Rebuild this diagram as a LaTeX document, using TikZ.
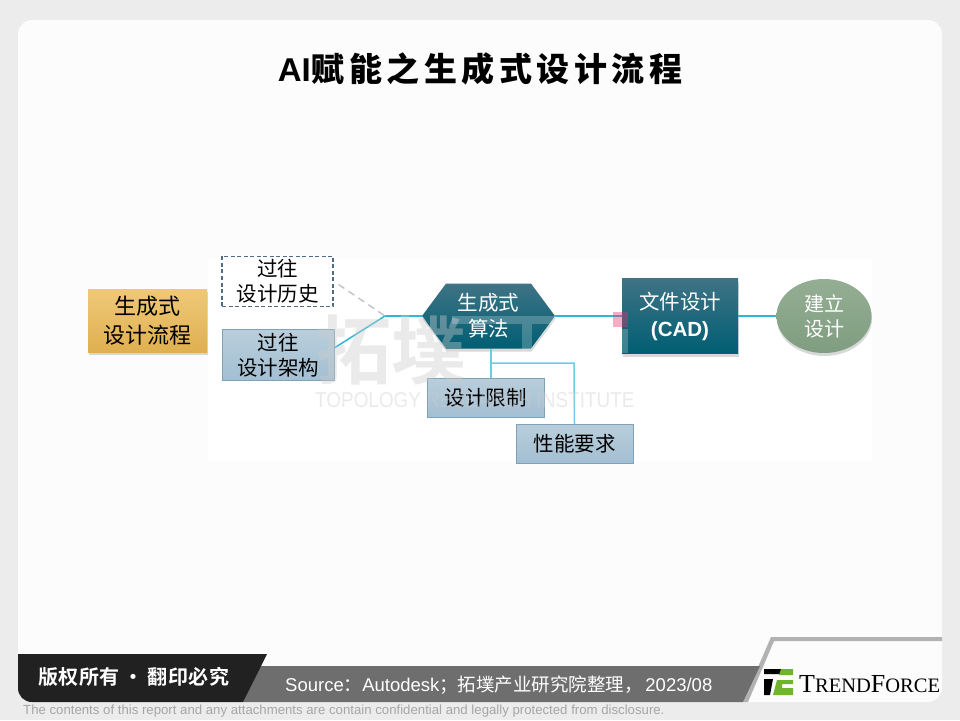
\documentclass[tikz,border=0pt]{standalone}
\usepackage{fontspec}
\setmainfont{Liberation Sans}
\newfontfamily\cjk{Noto Sans CJK SC}
\newfontfamily\cjkb{Noto Sans CJK SC Bold}
\newfontfamily\logoserif{Liberation Serif}
\usetikzlibrary{positioning, shapes.geometric, shapes.symbols, shadows}
\definecolor{pagegray}{HTML}{ECECEC}
\definecolor{flowline}{HTML}{2FB8D6}
\definecolor{tealtop}{HTML}{3F7385}
\definecolor{tealbot}{HTML}{005E73}
\definecolor{bluetop}{HTML}{B9CEDC}
\definecolor{bluebot}{HTML}{A3BFD2}
\definecolor{blueedge}{HTML}{7DA2BA}
\definecolor{dashedge}{HTML}{4F6B85}
\definecolor{goldtop}{HTML}{EFC878}
\definecolor{goldbot}{HTML}{DFB050}
\definecolor{greentop}{HTML}{94AE94}
\definecolor{greenbot}{HTML}{7F9D80}
\definecolor{trendgreen}{HTML}{6FB52C}
\definecolor{pinkmark}{HTML}{E8306F}
\begin{document}
\begin{tikzpicture}[
    x=1pt, y=-1pt,
    softshadow/.style={drop shadow={shadow xshift=0.5pt, shadow yshift=-3pt, opacity=0.3}},
    flowbox/.style={rectangle, minimum width=119pt, minimum height=63pt, top color=goldtop, bottom color=goldbot, softshadow, text=black, font=\fontsize{22}{29}\cjk, align=center},
    bluebox/.style={rectangle, draw=blueedge, top color=bluetop, bottom color=bluebot, text=black, font=\fontsize{20.5}{25}\cjk, align=center, minimum width=112pt, minimum height=50pt},
    dashbox/.style={rectangle, draw=dashedge, line width=1.2pt, dash pattern=on 4pt off 2.5pt, fill=white, text=black, font=\fontsize{20.5}{25}\cjk, align=center, minimum width=111pt, minimum height=49pt},
    tealshade/.style={top color=tealtop, bottom color=tealbot, text=white, align=center, softshadow},
    link/.style={flowline, line width=1.5pt},
    lightlink/.style={flowline!70, line width=1.5pt},
    markfill/.style={black!20, opacity=0.4},
    ]
    %Card and panel
    \useasboundingbox (0,0) rectangle (960,720);
    \fill[pagegray] (0,0) rectangle (960,720);
    \fill[white!99!black, rounded corners=14pt] (18,20) rectangle (942,702);
    \fill[white] (208,258) rectangle (872,462);
    %Title
    \node (title) at (480,69) {\fontsize{33}{36}\selectfont\bfseries AI\cjkb\hspace{1pt}赋\hspace{4.5pt}能\hspace{4.5pt}之\hspace{4.5pt}生\hspace{4.5pt}成\hspace{4.5pt}式\hspace{4.5pt}设\hspace{4.5pt}计\hspace{4.5pt}流\hspace{4.5pt}程};
    %Nodes
    \node[flowbox] (flow) at (147.5,320.5) {生成式\\设计流程};
    \node[dashbox] (hist) at (277.5,281.5) {过往\\设计历史};
    \node[bluebox] (arch) at (278,355) {过往\\设计架构};
    \node[signal, signal from=nowhere, signal to=west and east, signal pointer angle=107, minimum width=133pt, minimum height=65pt, inner sep=0pt, tealshade, font=\fontsize{20.5}{26}\cjk] (algo) at (488.5,316) {生成式\\算法};
    \node[bluebox, minimum width=117pt, minimum height=39pt] (limit) at (485.5,397.5) {设计限制};
    \node[bluebox, minimum width=117pt, minimum height=39pt] (perf) at (574.5,443.5) {性能要求};
    \node[rectangle, minimum width=116pt, minimum height=75pt, tealshade, font=\fontsize{20.5}{27}\cjk] (cad) at (680,316) {文件设计\\{\normalfont\bfseries (CAD)}};
    \node[ellipse, minimum width=95pt, minimum height=74pt, inner sep=0pt, top color=greentop, bottom color=greenbot, softshadow, text=white, font=\fontsize{20}{25}\cjk, align=center] (build) at (824,316) {建立\\设计};
    %Connectors
    \coordinate (joint) at (385,316);
    \coordinate (turn) at (491,363);
    \coordinate (corner) at (574,363);
    \draw[gray!50, line width=1.3pt, dash pattern=on 7pt off 5pt] (hist.east) ++(5,3) -- (joint);
    \draw[link] (arch.east) ++(0,-7) -- (joint);
    \draw[link] (joint) -- (algo.west);
    \draw[link] (algo.east) -- (cad.west);
    \draw[link] (cad.east) -- (build.west);
    \draw[lightlink] (algo.south -| turn) -- (limit.north -| turn);
    \draw[lightlink] (turn) -- (corner) -- (perf.north);
    %Watermark
    \node[markfill, text opacity=0.4, font=\fontsize{75}{80}\cjkb, anchor=west, inner sep=0pt] (markcn) at (316,350) {拓墣};
    \node[markfill, text opacity=0.4, font=\fontsize{21.5}{24}\selectfont, anchor=west, inner sep=0pt] (markeg) at (315,400) {\scalebox{0.88}[1]{TOPOLOGY RESEARCH INSTITUTE}};
    \fill[white, opacity=0.22] (452,316) rectangle (556,324);
    \fill[white, opacity=0.22] (522,324) rectangle (532,349);
    \fill[white, opacity=0.22] (622,329) rectangle (628,353);
    \node[fill=pinkmark, opacity=0.4, minimum width=15pt, minimum height=15pt, inner sep=0pt] (pink) at (620.5,319.5) {};
    %Footer
    \fill[black!30] (743,702) -- (771,637) -- (942,637) -- (942,641) -- (774,641) -- (748,702) -- cycle;
    \fill[black!57] (243,702) -- (260,666) -- (760,666) -- (743,702) -- cycle;
    \fill[black!87] (18,654) -- (267,654) -- (243,702) -- (32,702) .. controls (24,702) and (18,696) .. (18,688) -- cycle;
    \node[text=white, font=\fontsize{20}{24}\cjkb, anchor=west, inner sep=0pt] (rights) at (38,677) {版\hspace{0.5pt}权\hspace{0.5pt}所\hspace{0.5pt}有\hspace{4pt}·\hspace{4pt}翻\hspace{0.5pt}印\hspace{0.5pt}必\hspace{0.5pt}究};
    \node[text=white, font=\fontsize{18.5}{22}\selectfont, anchor=west, inner sep=0pt] (source) at (285,685) {Source{\cjk ：}Autodesk{\cjk ；拓墣产业研究院整理，}\hspace{2.5pt}2023/08};
    \node[text=gray!70, font=\fontsize{13.2}{16}\selectfont, anchor=west, inner sep=0pt] (legal) at (23,711) {The contents of this report and any attachments are contain confidential and legally protected from disclosure.};
    %Logo
    \fill[black] (764,669) -- (790,669) -- (787,674) -- (764,674) -- cycle;
    \fill[black] (764,679) -- (773,679) -- (770,695) -- (764,695) -- cycle;
    \fill[trendgreen] (781,669) -- (793,669) -- (793,675) -- (779,675) -- cycle;
    \fill[trendgreen] (777,680) -- (793,680) -- (793,684) -- (782,684) -- (782,688) -- (793,688) -- (793,695) -- (773,695) -- cycle;
    \node[text=black, anchor=west, inner sep=0pt] (brand) at (799,684) {\logoserif\fontsize{26}{26}\selectfont T\fontsize{20.5}{26}\selectfont REND\fontsize{26}{26}\selectfont F\fontsize{20.5}{26}\selectfont ORCE};
\end{tikzpicture}
\end{document}
